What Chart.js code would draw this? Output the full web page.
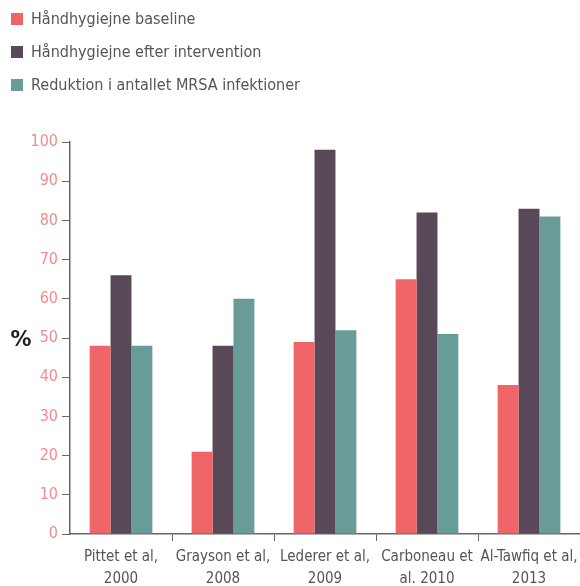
<!DOCTYPE html>
<html>
<head>
<meta charset="utf-8">
<script src="https://cdn.jsdelivr.net/npm/chart.js@4/dist/chart.umd.min.js"></script>
<style>
  html, body { margin: 0; padding: 0; background: #fff; }
  #wrap { position: relative; width: 580px; height: 586px; }
  #legend { position: absolute; left: 11px; top: 2px; font-family: 'Liberation Sans Narrow', 'DejaVu Sans Condensed', 'Roboto', sans-serif; font-size: 16px; color: #555; }
  #legend .item { display: flex; align-items: center; height: 33px; }
  #legend .box { width: 12px; height: 12px; margin-right: 8px; }
</style>
</head>
<body>
<div id="wrap">
  <canvas id="chart" width="580" height="586"></canvas>
  <div id="legend"></div>
</div>
<script>
const categories = [
  ['Pittet et al,', '2000'],
  ['Grayson et al,', '2008'],
  ['Lederer et al,', '2009'],
  ['Carboneau et', 'al. 2010'],
  ['Al-Tawfiq et al,', '2013'],
];
const seriesNames = ['Håndhygiejne baseline', 'Håndhygiejne efter intervention', 'Reduktion i antallet MRSA infektioner'];
const baseline = [48, 21, 49, 65, 38];
const afterIntervention = [66, 48, 98, 82, 83];
const mrsaReduction = [48, 60, 52, 51, 81];
const yTicks = [0, 10, 20, 30, 40, 50, 60, 70, 80, 90, 100];
const colors = ['#f06568', '#584858', '#689c99'];

const font = "'Liberation Sans Narrow', 'DejaVu Sans Condensed', 'Roboto', sans-serif";

const percentLabel = {
  id: 'percentLabel',
  afterDraw(chart) {
    const { ctx } = chart;
    const y = chart.scales.y;
    ctx.save();
    ctx.font = 'bold 21px "DejaVu Sans", sans-serif';
    ctx.fillStyle = '#222';
    ctx.textAlign = 'center';
    ctx.textBaseline = 'middle';
    ctx.fillText('%', 21, (y.top + y.bottom) / 2 + 3);
    ctx.restore();
  }
};

const chart = new Chart(document.getElementById('chart'), {
  type: 'bar',
  data: {
    labels: categories,
    datasets: [baseline, afterIntervention, mrsaReduction].map((data, i) => ({
      label: seriesNames[i],
      data,
      backgroundColor: colors[i],
      borderWidth: 0,
      barPercentage: 1,
      categoryPercentage: 0.615,
    })),
  },
  options: {
    responsive: false,
    animation: false,
    layout: { padding: { top: 142, left: 0, right: 0, bottom: 0 } },
    plugins: { legend: { display: false }, tooltip: { enabled: false } },
    scales: {
      x: {
        grid: {
          display: true, drawOnChartArea: false, tickLength: 7, offset: true,
          color: c => (c.index === 0 || c.index === categories.length) ? 'rgba(0,0,0,0)' : '#666',
        },
        border: { color: '#666', width: 1.5 },
        ticks: { color: '#555', font: { family: font, size: 15, lineHeight: 1.45 }, padding: 5, maxRotation: 0, autoSkip: false },
        afterFit(scale) { scale.height = 52; scale.paddingLeft = 0; scale.paddingRight = 0; },
      },
      y: {
        min: 0,
        max: 100,
        afterBuildTicks(scale) { scale.ticks = yTicks.map(v => ({ value: v })); },
        grid: { display: true, drawOnChartArea: false, color: '#666', tickLength: 8 },
        border: { color: '#666', width: 1.5 },
        ticks: { color: '#f28b8b', font: { family: font, size: 16 }, padding: 4 },
        afterFit(scale) { scale.width = 70; },
      },
    },
  },
  plugins: [percentLabel],
});

document.getElementById('legend').innerHTML = chart.data.datasets.map(ds =>
  `<div class="item"><span class="box" style="background:${ds.backgroundColor}"></span>${ds.label}</div>`
).join('');
</script>
</body>
</html>
